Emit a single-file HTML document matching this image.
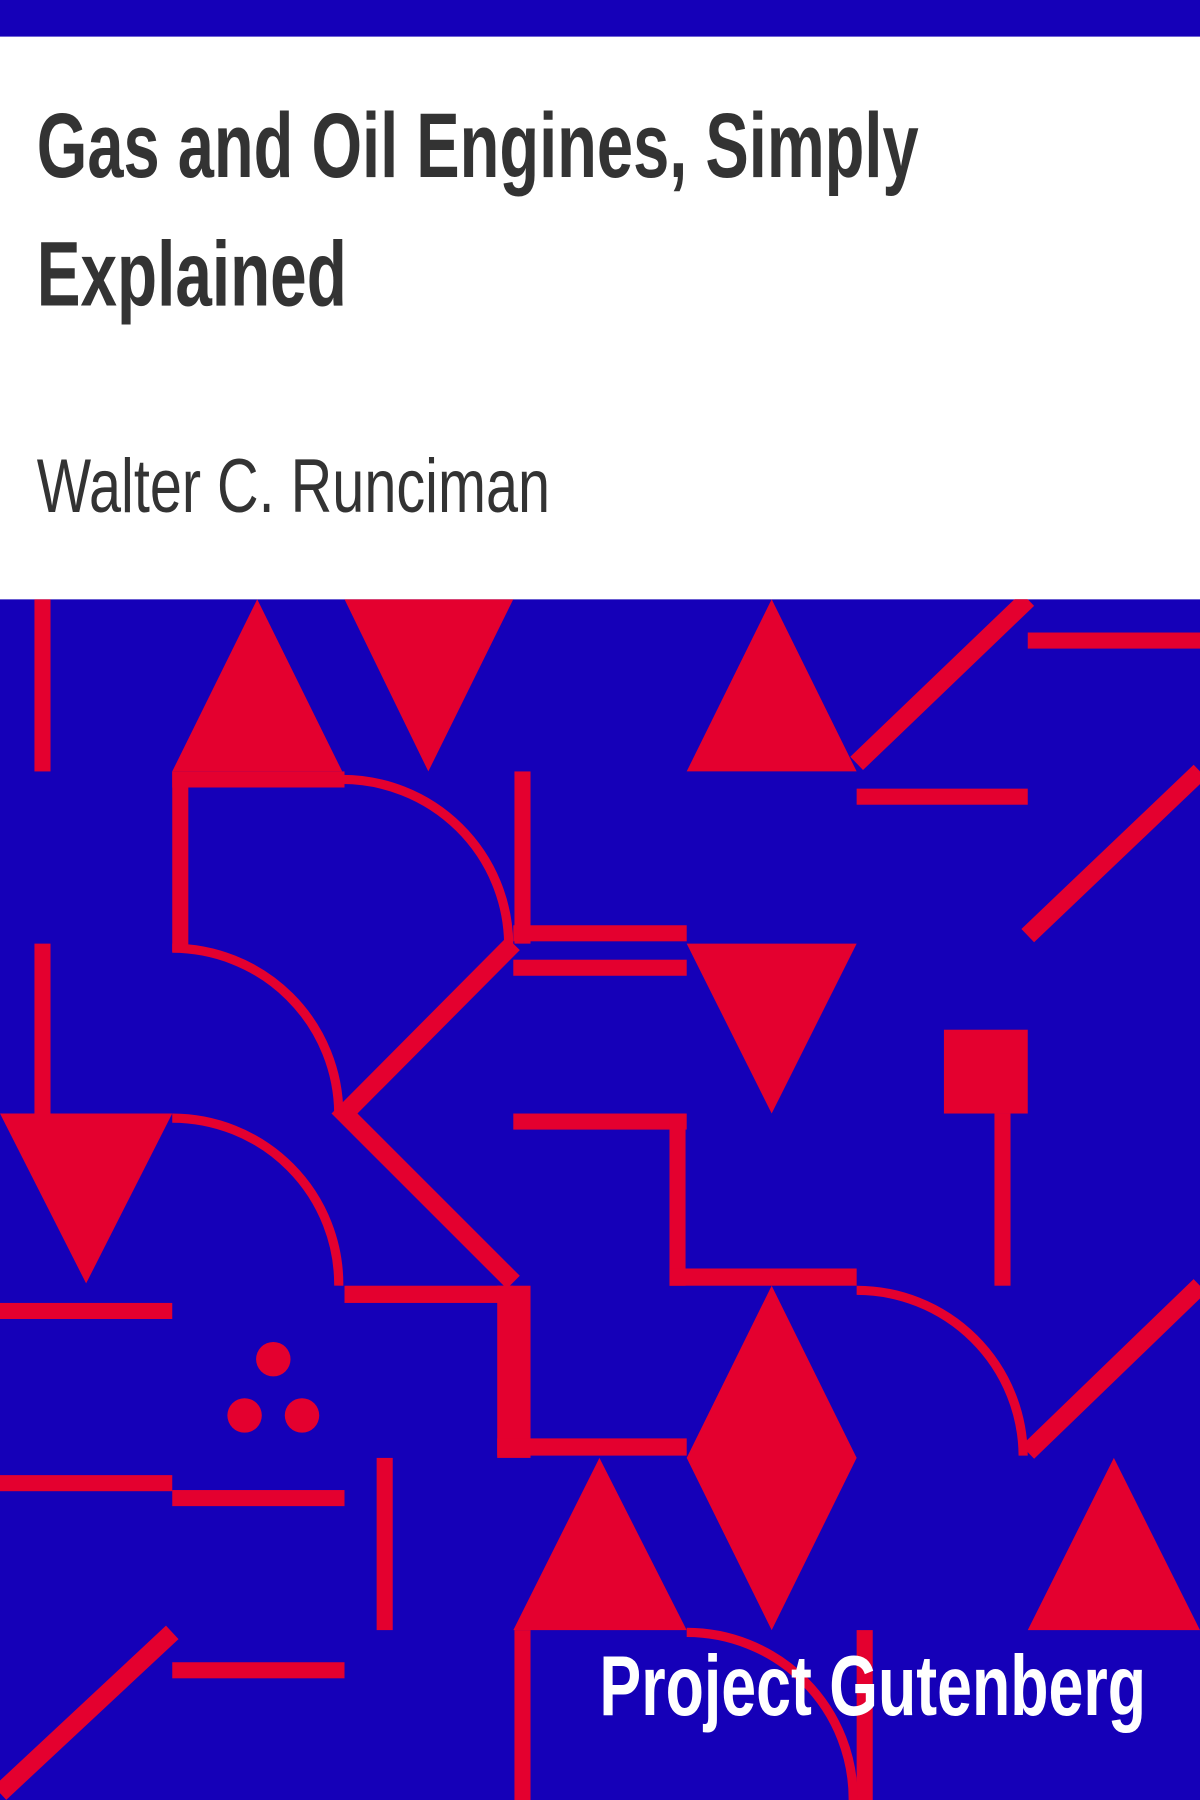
<!DOCTYPE html>
<html><head><meta charset="utf-8"><style>
html,body{margin:0;padding:0;width:1200px;height:1800px;overflow:hidden;background:#fff}
svg{display:block}
</style></head><body>
<svg width="1200" height="1800" viewBox="0 0 1045 1568" preserveAspectRatio="none" xmlns="http://www.w3.org/2000/svg">
<defs><clipPath id="pc"><rect x="0" y="522" width="1045" height="1046"/></clipPath></defs>
<rect x="0" y="0" width="1045" height="32" fill="#1500b8"/>
<rect x="0" y="32" width="1045" height="490" fill="#fff"/>
<text font-family="'Liberation Sans Narrow','Liberation Sans',sans-serif" font-weight="bold" font-size="80" fill="#333" x="32" y="154" textLength="768" lengthAdjust="spacingAndGlyphs">Gas and Oil Engines, Simply</text>
<text font-family="'Liberation Sans Narrow','Liberation Sans',sans-serif" font-weight="bold" font-size="80" fill="#333" x="32" y="266" textLength="270" lengthAdjust="spacingAndGlyphs">Explained</text>
<text font-family="'Liberation Sans Narrow','Liberation Sans',sans-serif" font-size="66" fill="#333" x="32" y="446" textLength="447" lengthAdjust="spacingAndGlyphs">Walter C. Runciman</text>
<g clip-path="url(#pc)">
<rect x="0" y="522" width="1045" height="1046" fill="#1500b8"/>
<g fill="#e4002f">
<rect x="30" y="522" width="14" height="150"/>
<polygon points="150,672 224,522 298,672"/>
<polygon points="300,522 447,522 373,672"/>
<polygon points="598,672 672,522 746,672"/>
<rect x="895" y="551" width="150" height="14"/>
<rect x="746" y="687" width="149" height="14"/>
<rect x="150" y="672" width="14" height="157"/>
<rect x="150" y="672" width="150" height="14"/>
<rect x="448" y="672" width="14" height="150"/>
<rect x="447" y="806" width="151" height="14"/>
<rect x="447" y="836" width="151" height="14"/>
<polygon points="598,822 746,822 672,970"/>
<rect x="30" y="822" width="14" height="150"/>
<polygon points="0,970 150,970 75,1118"/>
<rect x="822" y="897" width="73" height="73"/>
<rect x="866" y="970" width="14" height="150"/>
<rect x="447" y="970" width="151" height="14"/>
<rect x="583" y="970" width="14" height="150"/>
<rect x="583" y="1105" width="163" height="15"/>
<rect x="0" y="1135" width="150" height="14"/>
<rect x="300" y="1120" width="147" height="15"/>
<rect x="433" y="1120" width="29" height="150"/>
<rect x="433" y="1253" width="165" height="15"/>
<polygon points="672,1120 746,1270 672,1420 598,1270"/>
<circle cx="238" cy="1184" r="15"/>
<circle cx="213" cy="1233" r="15"/>
<circle cx="263" cy="1233" r="15"/>
<rect x="0" y="1285" width="150" height="14"/>
<rect x="150" y="1298" width="150" height="14"/>
<rect x="328" y="1270" width="14" height="150"/>
<polygon points="447,1420 522,1270 598,1420"/>
<polygon points="895,1420 970,1270 1045,1420"/>
<rect x="150" y="1448" width="150" height="14"/>
<rect x="448" y="1420" width="14" height="148"/>
<rect x="746" y="1420" width="14" height="148"/>
</g>
<g stroke="#e4002f" fill="none">
<path d="M746,665 L895,522" stroke-width="16"/>
<path d="M895,815 L1045,672" stroke-width="16"/>
<path d="M447,822 L300,970 L447,1117" stroke-width="16"/>
<path d="M895,1265 L1045,1120" stroke-width="16"/>
<path d="M0,1562 L150,1422" stroke-width="16"/>
<path d="M298,679 A145,145 0 0 1 443,822" stroke-width="8"/>
<path d="M150,826 A145,145 0 0 1 295,970" stroke-width="8"/>
<path d="M150,974 A145,145 0 0 1 295,1120" stroke-width="8"/>
<path d="M746,1124 A145,145 0 0 1 891,1268" stroke-width="8"/>
<path d="M598,1422 A145,145 0 0 1 743,1568" stroke-width="8"/>
</g>
</g>
<text font-family="'Liberation Sans Narrow','Liberation Sans',sans-serif" font-weight="bold" font-size="74" fill="#fff" x="522" y="1494" textLength="476" lengthAdjust="spacingAndGlyphs">Project Gutenberg</text>
</svg>
</body></html>
